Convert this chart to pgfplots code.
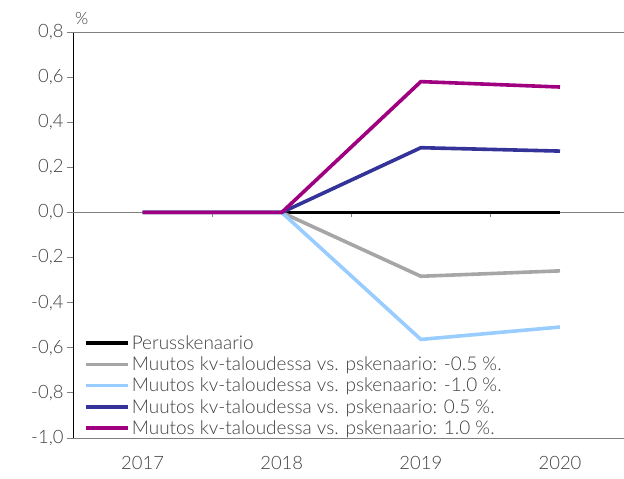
\documentclass[border=0pt]{standalone}
\usepackage{pgfplots}
\pgfplotsset{compat=1.18}
\usepackage{fontspec}
\setmainfont{Lato Light}
\definecolor{txt}{HTML}{404040}
\definecolor{axgray}{HTML}{808080}
\definecolor{cgray}{HTML}{A6A6A6}
\definecolor{clblue}{HTML}{99CCFF}
\definecolor{cblue}{HTML}{333399}
\definecolor{cpurple}{HTML}{A0007F}
\begin{document}
\begin{tikzpicture}
\path[use as bounding box] (-73bp,-41bp) rectangle (551bp,438bp);
\begin{axis}[
  at={(0,0)}, anchor=south west,
  scale only axis, width=551bp, height=406bp,
  xmin=-0.5, xmax=3.46, ymin=-1.0, ymax=0.8,
  axis lines*=left,
  x axis line style={axgray, line width=0.8pt},
  y axis line style={black, line width=0.8pt},
  xtick={0,1,2,3}, xticklabels={2017,2018,2019,2020},
  major x tick style={draw=none},
  ytick={-1,-0.8,...,0.81},
  ytick style={axgray, line width=0.8pt},
  tick align=outside, major tick length=6bp,
  yticklabel style={/pgf/number format/.cd, fixed, fixed zerofill, precision=1, use comma, assume math mode=true},
  ticklabel style={font=\fontsize{18.5}{22}\selectfont, text=txt},
  xticklabel style={yshift=-9bp},
  clip=false,
  legend style={at={(axis description cs:0.02,0.0)}, anchor=south west, draw=none, fill=none,
    font=\fontsize{19}{22}\selectfont, text=txt, row sep=2bp, inner sep=0pt},
  legend cell align=left,
  legend image code/.code={\draw[#1, line width=3.6bp] (0bp,0bp) -- (42bp,0bp);},
  every axis plot/.append style={line width=3.6bp},
]
\draw[axgray, line width=0.8pt] (axis cs:-0.5,0.8) -- (axis cs:3.46,0.8);
\draw[axgray, line width=0.8pt] (axis cs:-0.5,0) -- (axis cs:3.46,0);
\draw[axgray, line width=0.8pt] (axis cs:0.5,0) -- ([yshift=-5bp]axis cs:0.5,0);
\draw[axgray, line width=0.8pt] (axis cs:1.5,0) -- ([yshift=-5bp]axis cs:1.5,0);
\draw[axgray, line width=0.8pt] (axis cs:2.5,0) -- ([yshift=-5bp]axis cs:2.5,0);
\addplot[black] coordinates {(0,0) (1,0) (2,0) (3,0)};
\addlegendentry{Perusskenaario}
\addplot[cgray] coordinates {(0,0) (1,0) (2,-0.283) (3,-0.259)};
\addlegendentry{Muutos kv-taloudessa vs. pskenaario: -0.5 \%.}
\addplot[clblue] coordinates {(0,0) (1,0) (2,-0.563) (3,-0.508)};
\addlegendentry{Muutos kv-taloudessa vs. pskenaario: -1.0 \%.}
\addplot[cblue] coordinates {(0,0) (1,0) (2,0.287) (3,0.272)};
\addlegendentry{Muutos kv-taloudessa vs. pskenaario: 0.5 \%.}
\addplot[cpurple] coordinates {(0,0) (1,0) (2,0.580) (3,0.556)};
\addlegendentry{Muutos kv-taloudessa vs. pskenaario: 1.0 \%.}
\node[anchor=south west, text=txt, font=\fontsize{17}{20}\selectfont, inner sep=0pt] at ([xshift=2bp,yshift=7bp]rel axis cs:0,1) {\%};
\end{axis}
\end{tikzpicture}
\end{document}
